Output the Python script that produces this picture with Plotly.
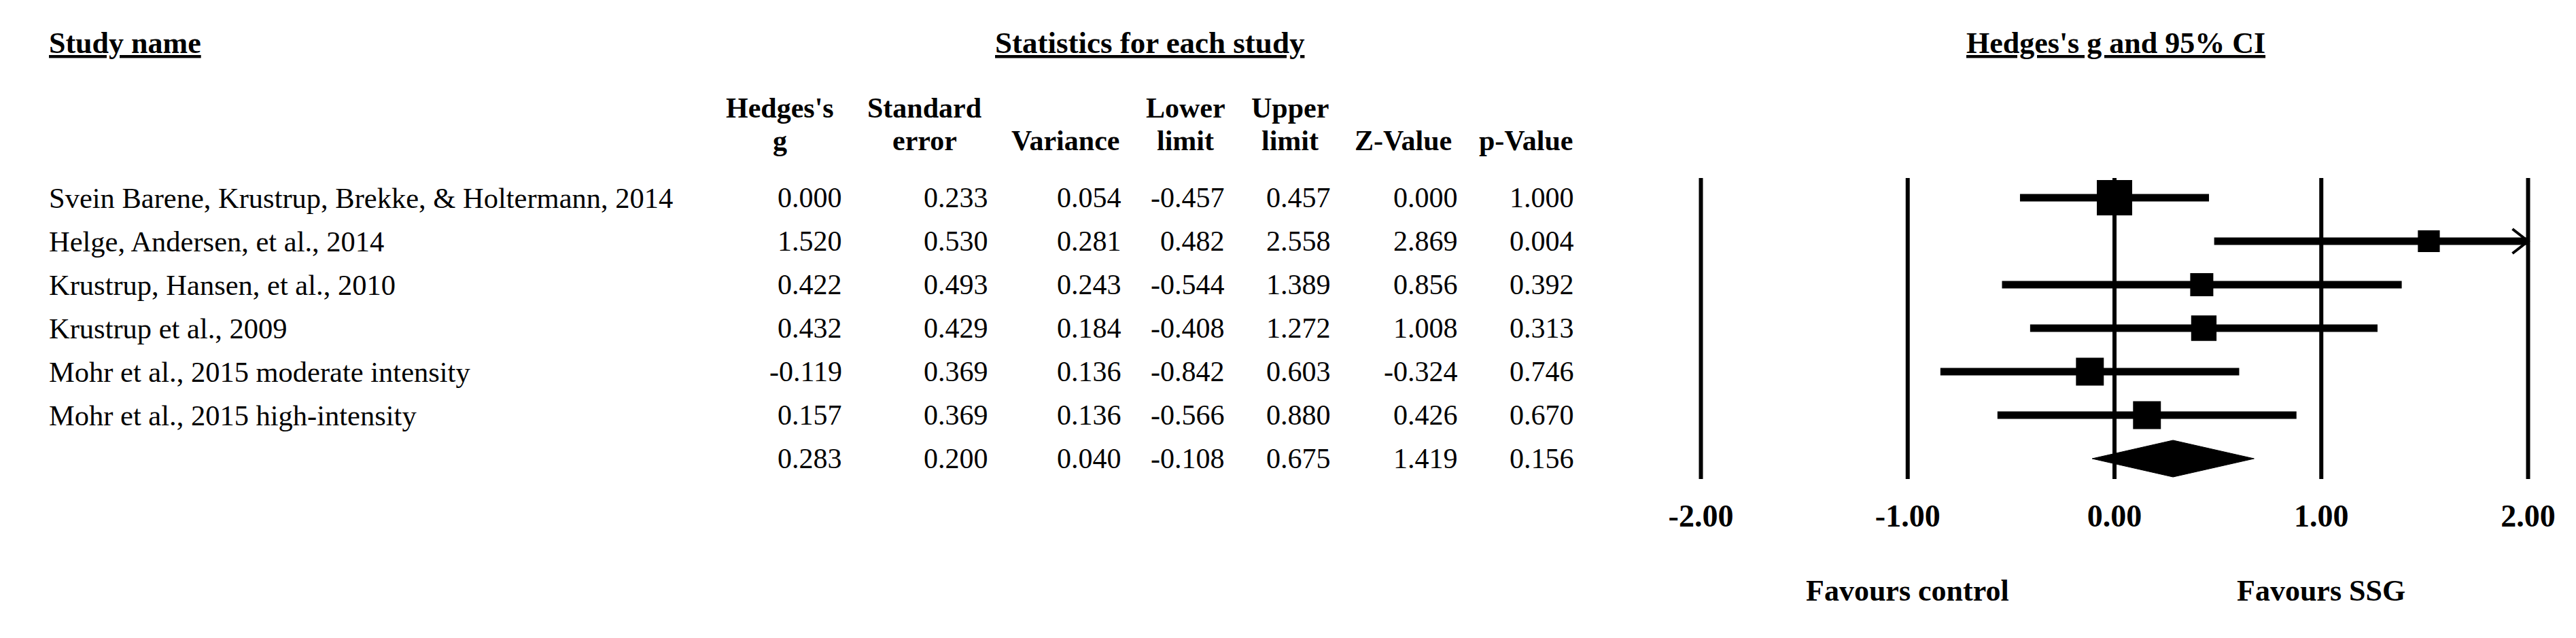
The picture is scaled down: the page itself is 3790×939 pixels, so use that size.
import math
import plotly.graph_objects as go

W, H = 3790, 939

# ---------------- data ----------------
studies = [
    "Svein Barene, Krustrup, Brekke, & Holtermann, 2014",
    "Helge, Andersen, et al., 2014",
    "Krustrup, Hansen, et al., 2010",
    "Krustrup et al., 2009",
    "Mohr et al., 2015 moderate intensity",
    "Mohr et al., 2015 high-intensity",
]
hedges_g = [0.000, 1.520, 0.422, 0.432, -0.119, 0.157]
std_err = [0.233, 0.530, 0.493, 0.429, 0.369, 0.369]
variance = [0.054, 0.281, 0.243, 0.184, 0.136, 0.136]
lower = [-0.457, 0.482, -0.544, -0.408, -0.842, -0.566]
upper = [0.457, 2.558, 1.389, 1.272, 0.603, 0.880]
z_value = [0.000, 2.869, 0.856, 1.008, -0.324, 0.426]
p_value = [1.000, 0.004, 0.392, 0.313, 0.746, 0.670]

summary_g = 0.283
summary_se = 0.200
summary_var = 0.040
summary_lower = -0.108
summary_upper = 0.675
summary_z = 1.419
summary_p = 0.156

axis_ticks = [-2, -1, 0, 1, 2]
tick_labels = ["-2.00", "-1.00", "0.00", "1.00", "2.00"]
favours_labels = ["Favours control", "Favours SSG"]
favours_at = [-1, 1]

col_head1 = ["Hedges's", "Standard", "", "Lower", "Upper", "", ""]
col_head2 = ["g", "error", "Variance", "limit", "limit", "Z-Value", "p-Value"]

# ---------------- layout helpers ----------------
FONT = "Liberation Serif"
PAGE_OFF = 8              # default page margin around the plot div
ROW0_PX, ROW_PX = 291.0, 64.0   # on-screen centre of first row, row pitch
XMIN, XMAX = -2.1, 2.1
X0_PX, UNIT_PX = 3111.0, 304.25  # on-screen position of x=0, px per unit
TXT_DY = -1


def yd(px):
    """on-screen pixel row -> y data value (row units)"""
    return 1 + (px - ROW0_PX) / ROW_PX


def xp(px):
    """on-screen pixel column -> paper fraction"""
    return (px - PAGE_OFF) / W


fig = go.Figure()
annotations = []


def add_text(xpx, ypx_, text, anchor="left", size=42, bold=False):
    annotations.append(dict(
        x=xp(xpx), xref="paper", y=yd(ypx_ + TXT_DY), yref="y",
        text=("<b>%s</b>" % text) if bold else text,
        showarrow=False, xanchor=anchor, yanchor="middle",
        font=dict(family=FONT, size=size, color="black"),
    ))


# titles
add_text(70, 64, "<u>Study name</u>", "left", 44, True)
add_text(1692, 64, "<u>Statistics for each study</u>", "center", 45, True)
add_text(3113, 64, "<u>Hedges's g and 95% CI</u>", "center", 44, True)

# column headers
head_center = [1147, 1360, 1567, 1744, 1898, 2064, 2245]
for hc, h1, h2 in zip(head_center, col_head1, col_head2):
    if h1:
        add_text(hc, 160, h1, "center", 42, True)
    add_text(hc, 208, h2, "center", 42, True)

# table body
col_right = [1241, 1456, 1652, 1804, 1960, 2147, 2318]
n = len(studies)
rows = list(range(1, n + 1))
for i in range(n):
    yrow = ROW0_PX + ROW_PX * i + 1
    add_text(70, yrow, studies[i], "left", 42.5)
    vals = [hedges_g[i], std_err[i], variance[i], lower[i], upper[i], z_value[i], p_value[i]]
    for cr, v in zip(col_right, vals):
        add_text(cr, yrow, "%.3f" % v, "right", 42)
ys = ROW0_PX + ROW_PX * n + 1
svals = [summary_g, summary_se, summary_var, summary_lower, summary_upper, summary_z, summary_p]
for cr, v in zip(col_right, svals):
    add_text(cr, ys, "%.3f" % v, "right", 42)

# favours labels
for lab, at in zip(favours_labels, favours_at):
    annotations.append(dict(
        x=at, xref="x", y=yd(870 + TXT_DY), yref="y", text="<b>%s</b>" % lab,
        showarrow=False, xanchor="center", yanchor="middle",
        font=dict(family=FONT, size=44, color="black"),
    ))

# ---------------- forest plot ----------------
shapes = []
for t in axis_ticks:
    shapes.append(dict(type="line", xref="x", yref="y", x0=t, x1=t,
                       y0=yd(262), y1=yd(705), line=dict(color="black", width=6)))

# CI lines
for i in range(n):
    r = rows[i]
    hi = min(upper[i], axis_ticks[-1])
    lo = max(lower[i], axis_ticks[0])
    fig.add_trace(go.Scatter(x=[lo, hi], y=[r, r], mode="lines",
                             line=dict(color="black", width=11),
                             hoverinfo="skip", showlegend=False))
    if upper[i] > axis_ticks[-1]:
        dx = 23 / UNIT_PX
        dy = 18 / ROW_PX
        xe = axis_ticks[-1]
        fig.add_trace(go.Scatter(x=[xe - dx, xe, xe - dx], y=[r - dy, r, r + dy],
                                 mode="lines", line=dict(color="black", width=4),
                                 hoverinfo="skip", showlegend=False))

# squares sized by inverse-variance weight
sizes = [17 + 12 * math.log(1.0 / v) for v in variance]
fig.add_trace(go.Scatter(x=hedges_g, y=rows, mode="markers",
                         marker=dict(symbol="square", size=sizes, color="black",
                                     opacity=1, line=dict(width=0)),
                         hoverinfo="skip", showlegend=False))

# summary diamond
rs = n + 1
hh = 27 / ROW_PX
fig.add_trace(go.Scatter(
    x=[summary_lower, summary_g, summary_upper, summary_g, summary_lower],
    y=[rs, rs - hh, rs, rs + hh, rs], mode="lines", fill="toself",
    fillcolor="black", line=dict(color="black", width=1),
    hoverinfo="skip", showlegend=False))

d0 = xp(X0_PX + XMIN * UNIT_PX)
d1 = xp(X0_PX + XMAX * UNIT_PX)

fig.update_layout(
    template="none",
    width=W, height=H, autosize=False,
    margin=dict(l=0, r=0, t=0, b=0, pad=0, autoexpand=False),
    paper_bgcolor="white", plot_bgcolor="white",
    showlegend=False,
    annotations=annotations,
    shapes=shapes,
    xaxis=dict(range=[XMIN, XMAX], domain=[d0, d1], anchor="free",
               position=1 - 720 / H, automargin=False,
               tickvals=axis_ticks, ticktext=tick_labels,
               tickfont=dict(family=FONT, size=46, color="black", weight="bold"),
               showgrid=False, zeroline=False, showline=False, ticks=""),
    yaxis=dict(range=[yd(H + PAGE_OFF), yd(PAGE_OFF)], domain=[0, 1], visible=False,
               automargin=False, showgrid=False, zeroline=False),
)

fig.write_html("out.html")
